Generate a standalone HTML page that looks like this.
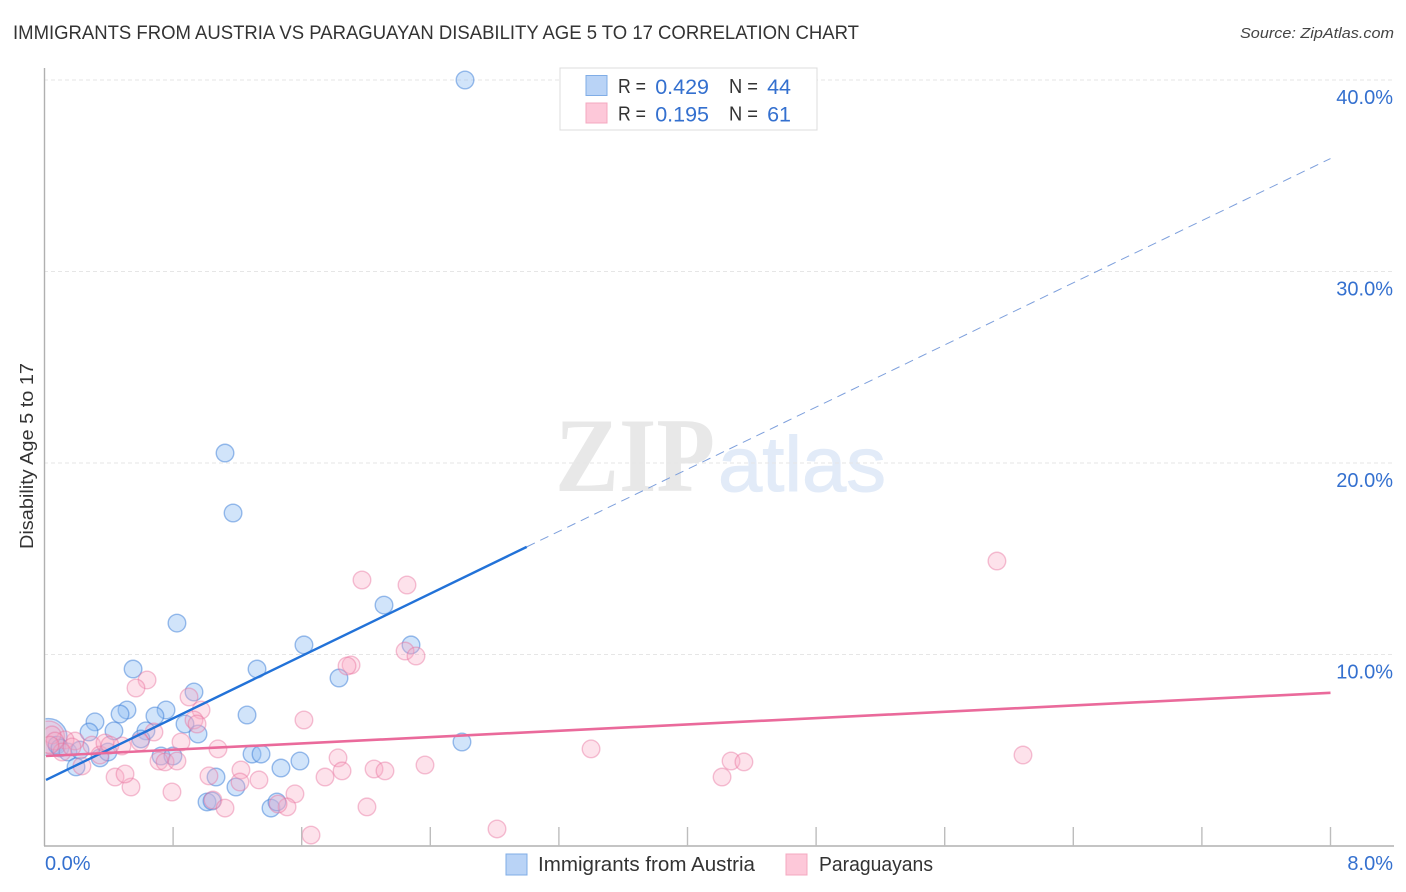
<!DOCTYPE html>
<html lang="en">
<head>
<meta charset="utf-8">
<title>Immigrants from Austria vs Paraguayan Disability Age 5 to 17 Correlation Chart</title>
<style>
html,body{margin:0;padding:0;background:#fff;}
svg{display:block;font-family:"Liberation Sans",sans-serif;}
</style>
</head>
<body>
<svg id="chart" xmlns="http://www.w3.org/2000/svg" width="1406" height="892" viewBox="0 0 1406 892">
  <defs><clipPath id="plot-clip"><rect x="45.500" y="60" width="1350" height="786"/></clipPath></defs>
  <text x="13" y="39" font-size="19" fill="#333" textLength="846" lengthAdjust="spacingAndGlyphs">IMMIGRANTS FROM AUSTRIA VS PARAGUAYAN DISABILITY AGE 5 TO 17 CORRELATION CHART</text>
  <text x="1394" y="38" font-size="15" font-style="italic" fill="#444" text-anchor="end" textLength="154" lengthAdjust="spacingAndGlyphs">Source: ZipAtlas.com</text>
  <g>
    <text x="555" y="491" font-family="'Liberation Serif',serif" font-weight="bold" font-size="106" fill="#e8e8e8" textLength="160" lengthAdjust="spacingAndGlyphs">ZIP</text>
    <text x="718" y="491" font-size="78" fill="#e2ebf8" stroke="#e2ebf8" stroke-width="1" textLength="168" lengthAdjust="spacingAndGlyphs">atlas</text>
  </g>
  <g id="grid"></g>
  <g id="points" clip-path="url(#plot-clip)"></g>
  <g id="trends"></g>
  <g id="axes"></g>
  <text transform="translate(33,456) rotate(-90)" font-size="18" fill="#333" text-anchor="middle" textLength="186" lengthAdjust="spacingAndGlyphs">Disability Age 5 to 17</text>
  <g>
    <rect x="560" y="68" width="257" height="62" fill="#fff" stroke="#dcdcdc" stroke-width="1"/>
    <rect x="586" y="75.500" width="21" height="20" fill="#b9d3f6" stroke="#80ade6"/>
    <rect x="586" y="103" width="21" height="20" fill="#fdc8d9" stroke="#f4a8c0"/>
    <g font-size="20" fill="#333">
      <text x="618" y="93" textLength="28" lengthAdjust="spacingAndGlyphs">R =</text>
      <text x="729" y="93" textLength="29" lengthAdjust="spacingAndGlyphs">N =</text>
      <text x="618" y="120.500" textLength="28" lengthAdjust="spacingAndGlyphs">R =</text>
      <text x="729" y="120.500" textLength="29" lengthAdjust="spacingAndGlyphs">N =</text>
    </g>
    <g font-size="21.500" fill="#3470cf" text-anchor="end">
      <text x="709" y="94">0.429</text>
      <text x="791" y="94">44</text>
      <text x="709" y="121.500">0.195</text>
      <text x="791" y="121.500">61</text>
    </g>
  </g>
  <g>
    <rect x="506" y="854" width="21" height="21" fill="#b9d3f6" stroke="#80ade6"/>
    <text x="538" y="871" font-size="20" fill="#333" textLength="217" lengthAdjust="spacingAndGlyphs">Immigrants from Austria</text>
    <rect x="786" y="854" width="21" height="21" fill="#fdc8d9" stroke="#f4a8c0"/>
    <text x="819" y="871" font-size="20" fill="#333" textLength="114" lengthAdjust="spacingAndGlyphs">Paraguayans</text>
  </g>
</svg>
<script>
const blueX = [2.616,1.123,1.173,0.824,2.112,1.614,2.280,0.551,1.322,1.832,0.930,0.756,0.513,0.470,0.687,1.260,0.314,0.874,0.277,0.432,0.631,0.955,0.600,2.597,0.078,0.096,0.146,0.221,0.345,0.395,0.196,0.725,0.799,1.291,1.347,1.471,1.589,1.067,1.191,1.011,1.042,1.409,1.446];
const blueY = [40.0,20.52,17.39,11.64,12.58,10.50,10.50,9.24,9.24,8.77,8.04,7.10,7.10,6.89,6.79,6.84,6.48,6.37,5.95,6.01,6.01,5.85,5.59,5.43,5.27,5.12,4.91,5.01,4.60,4.91,4.13,4.70,4.70,4.80,4.80,4.07,4.44,3.60,3.08,2.30,2.35,1.98,2.30];
const pinkX = [5.925,1.975,2.255,1.907,1.882,2.243,2.311,0.638,0.569,0.899,0.974,0.930,0.949,1.614,0.681,0.849,3.400,1.079,6.087,1.826,4.271,4.351,4.215,2.367,2.050,2.118,1.851,1.745,1.334,1.222,1.023,1.216,0.793,0.538,0.439,0.501,1.558,1.048,1.123,1.509,1.453,2.006,1.658,2.815,0.712,0.750,0.824,0.233,0.190,0.128,0.047,0.065,0.109,0.295,0.345,0.482,0.376,0.407,0.594,0.034,0.171];
const pinkY = [14.88,13.89,13.63,9.45,9.40,10.18,9.92,8.67,8.25,7.78,7.10,6.58,6.37,6.58,5.95,5.43,5.07,5.07,4.75,4.60,4.44,4.39,3.60,4.23,4.02,3.92,3.92,3.60,3.45,3.97,3.66,3.34,2.82,3.08,3.60,3.76,2.72,2.40,1.98,2.04,2.19,2.04,0.57,0.89,4.44,4.39,4.44,4.18,5.48,5.54,5.80,5.48,4.91,5.27,4.75,5.22,5.38,5.27,5.43,5.27,5.17];
const clusterX = [0.025];
const clusterY = [5.69];
const blueTrendX = [0, 3.0, 8.0];
const blueTrendY = [3.45, 15.62, 35.9];
const pinkTrendX = [0, 8.0];
const pinkTrendY = [4.7, 8.0];
const yTicks = [10, 20, 30, 40];
const yTickLabels = ["10.0%", "20.0%", "30.0%", "40.0%"];
const xTicks = [0.8, 1.6, 2.4, 3.2, 4.0, 4.8, 5.6, 6.4, 7.2, 8.0];
const xEndLabels = ["0.0%", "8.0%"];

const NS = "http://www.w3.org/2000/svg";
const xScale = v => 44.5 + v * 160.75;
const yScale = v => 846 - v * 19.15;

function make(tag, attrs, parent) {
  const el = document.createElementNS(NS, tag);
  for (const k in attrs) el.setAttribute(k, attrs[k]);
  parent.appendChild(el);
  return el;
}

const grid = document.getElementById("grid");
const axes = document.getElementById("axes");
const points = document.getElementById("points");
const trends = document.getElementById("trends");

yTicks.forEach((t, i) => {
  const line = make("line", {x1: 44, x2: 1394, y1: yScale(t), y2: yScale(t), stroke: "#e6e6e6", "stroke-width": 1, "stroke-dasharray": "4 3"}, grid);
  
  
  const label = make("text", {x: 1393, y: yScale(t) + 24, "font-size": 20, fill: "#3470cf", "text-anchor": "end"}, axes);
  
  
  label.textContent = yTickLabels[i];
});

const yAxis = make("line", {x1: 44.5, x2: 44.5, y1: 68, y2: 846, stroke: "#b0b0b0", "stroke-width": 1.4}, axes);


const xAxis = make("line", {x1: 44, x2: 1394, y1: 846, y2: 846, stroke: "#b0b0b0", "stroke-width": 1.4}, axes);



xTicks.forEach(t => {
  const tick = make("line", {x1: xScale(t), x2: xScale(t), y1: 827, y2: 846, stroke: "#bdbdbd", "stroke-width": 1.4}, axes);
  
  
});

const xLabelLeft = make("text", {x: 45, y: 870, "font-size": 20, fill: "#3470cf"}, axes);


xLabelLeft.textContent = xEndLabels[0];
const xLabelRight = make("text", {x: 1393, y: 870, "font-size": 20, fill: "#3470cf", "text-anchor": "end"}, axes);


xLabelRight.textContent = xEndLabels[1];

const blueStyle = {fill: "rgba(145,190,242,0.42)", stroke: "rgba(60,125,215,0.5)", "stroke-width": 1.4};
const pinkStyle = {fill: "rgba(250,170,195,0.34)", stroke: "rgba(232,110,155,0.42)", "stroke-width": 1.4};

clusterX.forEach((v, i) => {
  const big = make("circle", Object.assign({cx: xScale(v), cy: yScale(clusterY[i]), r: 18.5}, blueStyle), points);
  
  
  const bigPink = make("circle", Object.assign({cx: xScale(v), cy: yScale(clusterY[i]), r: 16}, pinkStyle), points);
  
  
});
blueX.forEach((v, i) => {
  const c = make("circle", Object.assign({cx: xScale(v), cy: yScale(blueY[i]), r: 8.8}, blueStyle), points);
  
  
});
pinkX.forEach((v, i) => {
  const c = make("circle", Object.assign({cx: xScale(v), cy: yScale(pinkY[i]), r: 8.8}, pinkStyle), points);
  
  
});

const blueSolid = make("line", {x1: xScale(blueTrendX[0]) + 1.5, y1: yScale(blueTrendY[0]), x2: xScale(blueTrendX[1]), y2: yScale(blueTrendY[1]), stroke: "#2272d8", "stroke-width": 2.4}, trends);


const blueDash = make("line", {x1: xScale(blueTrendX[1]), y1: yScale(blueTrendY[1]), x2: xScale(blueTrendX[2]), y2: yScale(blueTrendY[2]), stroke: "#7d9fdc", "stroke-width": 1, "stroke-dasharray": "9 6"}, trends);


const pinkLine = make("line", {x1: xScale(pinkTrendX[0]) + 1.5, y1: yScale(pinkTrendY[0]), x2: xScale(pinkTrendX[1]), y2: yScale(pinkTrendY[1]), stroke: "#ea6a9b", "stroke-width": 2.6}, trends);


</script>
</body>
</html>
